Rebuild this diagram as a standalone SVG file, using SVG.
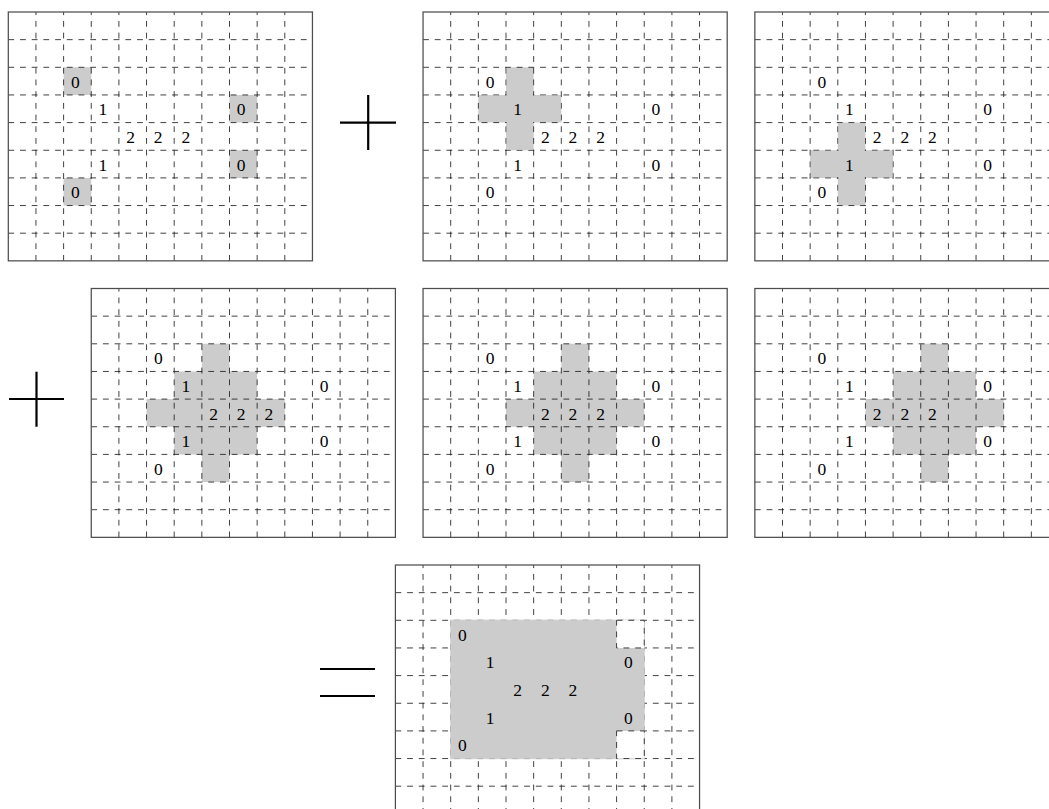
<svg xmlns="http://www.w3.org/2000/svg" xmlns:xlink="http://www.w3.org/1999/xlink" width="1049" height="809" viewBox="0 0 1049 809">
<style>
.dl{fill:none;stroke:#1a1a1a;stroke-width:0.03;stroke-dasharray:0.2116 0.2116}
.bd{fill:none;stroke:#4d4d4d;stroke-width:0.045}
.gf{fill:#cccccc;stroke:none}
.g7{fill:#cccccc;stroke:#cccccc;stroke-opacity:0.7;stroke-width:0.05}
.wb{fill:#ffffff;stroke:#1a1a1a;stroke-width:0.03;stroke-dasharray:0.2116 0.2116}
.op{stroke:#000;stroke-width:2.2;fill:none}
</style>
<defs>
<path id="gl" class="dl" d="M0 1H11M0 2H11M0 3H11M0 4H11M0 5H11M0 6H11M0 7H11M0 8H11M1 9V0M2 9V0M3 9V0M4 9V0M5 9V0M6 9V0M7 9V0M8 9V0M9 9V0M10 9V0"/>
</defs>
<rect width="1049" height="809" fill="#ffffff"/>

<g id="grid1" transform="translate(8.3 12)">
<g transform="scale(27.65)">
<path class="gf" d="M2 2h1v1h-1zM8 3h1v1h-1zM8 5h1v1h-1zM2 6h1v1h-1z"/>
<use xlink:href="#gl" href="#gl"/>
<rect class="bd" x="0" y="0" width="11" height="9"/>
</g>
<g font-family="Liberation Serif, Times New Roman, serif" font-size="17.5" fill="#000" text-anchor="middle">
<text x="67" y="75.8">0</text><text x="94.65" y="103.45">1</text><text x="232.9" y="103.45">0</text>
<text x="122.3" y="131.1">2</text><text x="149.95" y="131.1">2</text><text x="177.6" y="131.1">2</text>
<text x="94.65" y="158.75">1</text><text x="232.9" y="158.75">0</text><text x="67" y="186.4">0</text>
</g>
</g>

<g id="grid2" transform="translate(423.05 12)">
<g transform="scale(27.65)">
<path class="gf" d="M3 2H4V3H5V4H4V5H3V4H2V3H3Z"/>
<use xlink:href="#gl" href="#gl"/>
<path class="gf" d="M3.022 2.022H3.978V3.022H4.978V3.978H3.978V4.978H3.022V3.978H2.022V3.022H3.022Z"/>
<rect class="bd" x="0" y="0" width="11" height="9"/>
</g>
<g font-family="Liberation Serif, Times New Roman, serif" font-size="17.5" fill="#000" text-anchor="middle">
<text x="67" y="75.8">0</text><text x="94.65" y="103.45">1</text><text x="232.9" y="103.45">0</text>
<text x="122.3" y="131.1">2</text><text x="149.95" y="131.1">2</text><text x="177.6" y="131.1">2</text>
<text x="94.65" y="158.75">1</text><text x="232.9" y="158.75">0</text><text x="67" y="186.4">0</text>
</g>
</g>

<g id="grid3" transform="translate(754.85 12)">
<g transform="scale(27.65)">
<path class="gf" d="M3 4H4V5H5V6H4V7H3V6H2V5H3Z"/>
<use xlink:href="#gl" href="#gl"/>
<path class="gf" d="M3.022 4.022H3.978V5.022H4.978V5.978H3.978V6.978H3.022V5.978H2.022V5.022H3.022Z"/>
<rect class="bd" x="0" y="0" width="11" height="9"/>
</g>
<g font-family="Liberation Serif, Times New Roman, serif" font-size="17.5" fill="#000" text-anchor="middle">
<text x="67" y="75.8">0</text><text x="94.65" y="103.45">1</text><text x="232.9" y="103.45">0</text>
<text x="122.3" y="131.1">2</text><text x="149.95" y="131.1">2</text><text x="177.6" y="131.1">2</text>
<text x="94.65" y="158.75">1</text><text x="232.9" y="158.75">0</text><text x="67" y="186.4">0</text>
</g>
</g>

<g id="grid4" transform="translate(91.25 288.5)">
<g transform="scale(27.65)">
<path class="gf" d="M4 2H5V3H6V4H7V5H6V6H5V7H4V6H3V5H2V4H3V3H4Z"/>
<use xlink:href="#gl" href="#gl"/>
<rect class="bd" x="0" y="0" width="11" height="9"/>
</g>
<g font-family="Liberation Serif, Times New Roman, serif" font-size="17.5" fill="#000" text-anchor="middle">
<text x="67" y="75.8">0</text><text x="94.65" y="103.45">1</text><text x="232.9" y="103.45">0</text>
<text x="122.3" y="131.1">2</text><text x="149.95" y="131.1">2</text><text x="177.6" y="131.1">2</text>
<text x="94.65" y="158.75">1</text><text x="232.9" y="158.75">0</text><text x="67" y="186.4">0</text>
</g>
</g>

<g id="grid5" transform="translate(423.05 288.5)">
<g transform="scale(27.65)">
<path class="gf" d="M5 2H6V3H7V4H8V5H7V6H6V7H5V6H4V5H3V4H4V3H5Z"/>
<use xlink:href="#gl" href="#gl"/>
<rect class="bd" x="0" y="0" width="11" height="9"/>
</g>
<g font-family="Liberation Serif, Times New Roman, serif" font-size="17.5" fill="#000" text-anchor="middle">
<text x="67" y="75.8">0</text><text x="94.65" y="103.45">1</text><text x="232.9" y="103.45">0</text>
<text x="122.3" y="131.1">2</text><text x="149.95" y="131.1">2</text><text x="177.6" y="131.1">2</text>
<text x="94.65" y="158.75">1</text><text x="232.9" y="158.75">0</text><text x="67" y="186.4">0</text>
</g>
</g>

<g id="grid6" transform="translate(754.85 288.5)">
<g transform="scale(27.65)">
<path class="gf" d="M6 2H7V3H8V4H9V5H8V6H7V7H6V6H5V5H4V4H5V3H6Z"/>
<use xlink:href="#gl" href="#gl"/>
<rect class="bd" x="0" y="0" width="11" height="9"/>
</g>
<g font-family="Liberation Serif, Times New Roman, serif" font-size="17.5" fill="#000" text-anchor="middle">
<text x="67" y="75.8">0</text><text x="94.65" y="103.45">1</text><text x="232.9" y="103.45">0</text>
<text x="122.3" y="131.1">2</text><text x="149.95" y="131.1">2</text><text x="177.6" y="131.1">2</text>
<text x="94.65" y="158.75">1</text><text x="232.9" y="158.75">0</text><text x="67" y="186.4">0</text>
</g>
</g>

<g id="grid7" transform="translate(395.4 565)">
<g transform="scale(27.65)">
<use xlink:href="#gl" href="#gl"/>
<path class="g7" d="M2 2H9V7H2Z"/>
<path class="wb" d="M8 2h1v1h-1zM8 6h1v1h-1z"/>
<rect class="bd" x="0" y="0" width="11" height="9"/>
</g>
<g font-family="Liberation Serif, Times New Roman, serif" font-size="17.5" fill="#000" text-anchor="middle">
<text x="67" y="75.8">0</text><text x="94.65" y="103.45">1</text><text x="232.9" y="103.45">0</text>
<text x="122.3" y="131.1">2</text><text x="149.95" y="131.1">2</text><text x="177.6" y="131.1">2</text>
<text x="94.65" y="158.75">1</text><text x="232.9" y="158.75">0</text><text x="67" y="186.4">0</text>
</g>
</g>

<g id="operators">
<path class="op" d="M340 122.6H396M368.2 95V150"/>
<path class="op" d="M9 399H64M36.5 371.7V426.7"/>
<path class="op" d="M320 669H375M320 696H375" stroke-width="2.5"/>
</g>
</svg>
